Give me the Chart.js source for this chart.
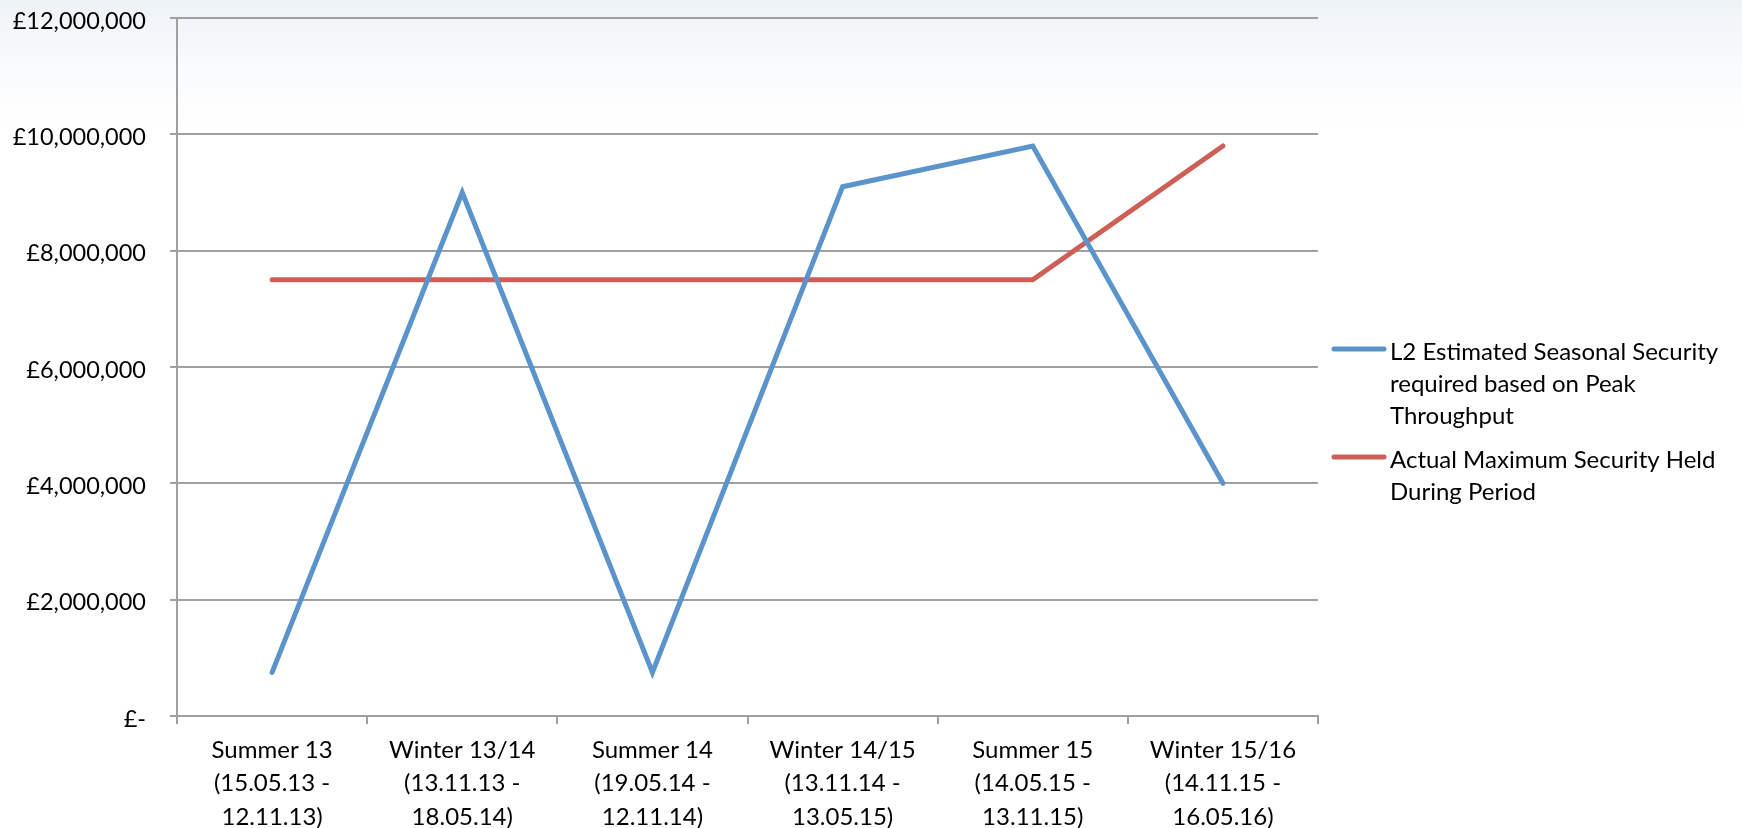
<!DOCTYPE html>
<html>
<head>
<meta charset="utf-8">
<script src="https://cdn.jsdelivr.net/npm/chart.js@4/dist/chart.umd.min.js"></script>
<style>
  html, body { margin: 0; padding: 0; }
  body {
    width: 1742px; height: 828px; overflow: hidden;
    background: linear-gradient(to bottom, #eef3f8 0px, #f8fafc 60px, #ffffff 130px);
  }
  #wrap { position: relative; width: 1742px; height: 828px; }
</style>
</head>
<body>
<div id="wrap"><canvas id="securityChart" width="1742" height="828"></canvas></div>
<script>
const periods = [
    ['Summer 13', '(15.05.13 -', '12.11.13)'],
    ['Winter 13/14', '(13.11.13 -', '18.05.14)'],
    ['Summer 14', '(19.05.14 -', '12.11.14)'],
    ['Winter 14/15', '(13.11.14 -', '13.05.15)'],
    ['Summer 15', '(14.05.15 -', '13.11.15)'],
    ['Winter 15/16', '(14.11.15 -', '16.05.16)']
];
const estimatedSecurity = [750000, 9000000, 750000, 9100000, 9800000, 4000000];
const actualSecurity = [7500000, 7500000, 7500000, 7500000, 7500000, 9800000];
const seriesNames = [
    ['L2 Estimated Seasonal Security', 'required based on Peak', 'Throughput'],
    ['Actual Maximum Security Held', 'During Period']
];
const yTicks = [0, 2000000, 4000000, 6000000, 8000000, 10000000, 12000000];

const FONT = 'Lato, "Open Sans", sans-serif';
const GRID = '#a0a0a0';

// legend drawn by hand so the labels can wrap like the original
const sideLegend = {
    id: 'sideLegend',
    afterDraw(chart) {
        const ctx = chart.ctx;
        const tops = [349, 457];
        ctx.save();
        chart.data.datasets.forEach((ds, i) => {
            const y = tops[i];
            ctx.strokeStyle = ds.borderColor;
            ctx.lineWidth = 5;
            ctx.lineCap = 'round';
            ctx.beginPath();
            ctx.moveTo(1334, y);
            ctx.lineTo(1384, y);
            ctx.stroke();
            ctx.fillStyle = '#000';
            ctx.font = '24px ' + FONT;
            ctx.textBaseline = 'middle';
            ctx.textAlign = 'left';
            ds.label.forEach((line, j) => {
                ctx.fillText(line, 1390, y + 3 + j * 32);
            });
        });
        ctx.restore();
    }
};

const ctx = document.getElementById('securityChart').getContext('2d');
new Chart(ctx, {
    type: 'line',
    data: {
        labels: periods,
        datasets: [
            {
                label: seriesNames[0],
                data: estimatedSecurity,
                borderColor: '#5b93cb',
                borderWidth: 5,
                pointRadius: 0,
                tension: 0,
                borderCapStyle: 'round',
                borderJoinStyle: 'miter'
            },
            {
                label: seriesNames[1],
                data: actualSecurity,
                borderColor: '#cd5f57',
                borderWidth: 5,
                pointRadius: 0,
                tension: 0,
                borderCapStyle: 'round',
                borderJoinStyle: 'miter'
            }
        ]
    },
    options: {
        responsive: false,
        animation: false,
        layout: { padding: { top: 0, right: 424, bottom: 0, left: 0 } },
        plugins: {
            legend: { display: false },
            tooltip: { enabled: false }
        },
        scales: {
            x: {
                offset: true,
                grid: {
                    offset: true,
                    drawOnChartArea: false,
                    drawTicks: true,
                    tickLength: 8,
                    color: GRID,
                    lineWidth: 2
                },
                border: { color: GRID, width: 2 },
                ticks: {
                    color: '#000',
                    font: { family: FONT, size: 24, lineHeight: 1.4 },
                    padding: 9,
                    maxRotation: 0,
                    autoSkip: false
                },
                afterFit(scale) { scale.height = 112; }
            },
            y: {
                min: 0,
                max: 12000000,
                afterBuildTicks(scale) {
                    scale.ticks = yTicks.map(v => ({ value: v }));
                },
                grid: {
                    color: GRID,
                    lineWidth: 2,
                    drawTicks: true,
                    tickLength: 7
                },
                border: { color: GRID, width: 2 },
                ticks: {
                    color: '#000',
                    font: { family: FONT, size: 23.5 },
                    padding: 24,
                    labelOffset: 3,
                    callback: v => v === 0 ? '£-' : '£' + v.toLocaleString('en-GB')
                },
                afterFit(scale) {
                    scale.width = 177;
                    scale.paddingTop = 18;
                    scale.paddingBottom = 0;
                }
            }
        }
    },
    plugins: [sideLegend]
});
</script>
</body>
</html>
